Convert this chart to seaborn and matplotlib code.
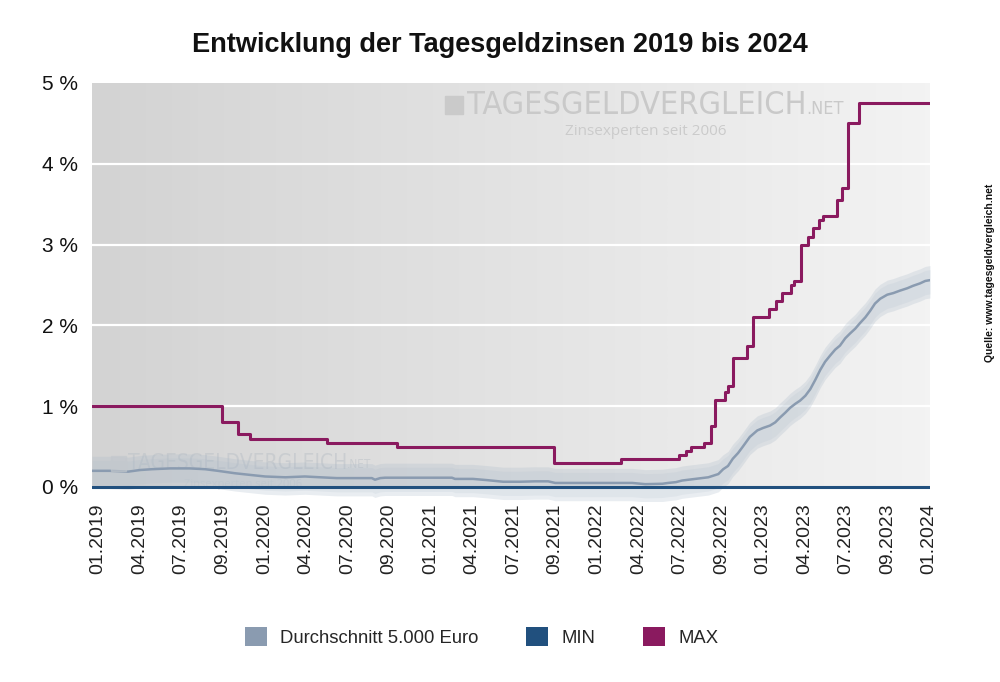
import numpy as np
import pandas as pd
import matplotlib
matplotlib.use("Agg")
import matplotlib.pyplot as plt
from matplotlib.colors import LinearSegmentedColormap
from matplotlib.patches import Patch, Rectangle
from matplotlib import font_manager as fm
import seaborn as sns

# ---------------- data ----------------
tick_labels = ["01.2019", "04.2019", "07.2019", "09.2019", "01.2020", "04.2020",
               "07.2020", "09.2020", "01.2021", "04.2021", "07.2021", "09.2021",
               "01.2022", "04.2022", "07.2022", "09.2022", "01.2023", "04.2023",
               "07.2023", "09.2023", "01.2024"]

# position along the (categorical) time axis, in units of tick index
max_t = [-0.145, 2.979, 3.358, 3.663, 5.506, 7.200, 10.980, 12.590, 13.980, 14.148,
         14.275, 14.590, 14.748, 14.843, 15.085, 15.159, 15.275, 15.612, 15.769,
         16.138, 16.306, 16.464, 16.675, 16.748, 16.906, 17.096, 17.212, 17.337,
         17.454, 17.791, 17.896, 18.054, 18.317, 20.02]
max_vals = [1.00, 0.80, 0.65, 0.60, 0.55, 0.50, 0.30, 0.35, 0.40, 0.45,
            0.50, 0.55, 0.75, 1.08, 1.18, 1.25, 1.60, 1.75, 2.10,
            2.20, 2.30, 2.40, 2.50, 2.55, 3.00, 3.10, 3.20, 3.30,
            3.35, 3.55, 3.70, 4.50, 4.75, 4.75]

avg_t = [-0.145, 0.284, 0.726, 1.011, 1.295, 1.737, 2.211, 2.579, 2.884, 3.295,
         3.653, 4.021, 4.506, 4.979, 5.348, 5.748, 6.590, 6.664, 6.790, 6.906,
         7.748, 8.516, 8.590, 9.022, 9.359, 9.748, 10.159, 10.516, 10.832, 11.001,
         12.085, 12.853, 13.169, 13.580, 13.717, 13.906, 14.054, 14.369, 14.685,
         14.927, 15.043, 15.159, 15.275, 15.401, 15.517, 15.685, 15.864, 16.001,
         16.169, 16.296, 16.412, 16.538, 16.654, 16.780, 16.896, 17.022, 17.138,
         17.264, 17.380, 17.496, 17.622, 17.738, 17.854, 17.980, 18.096, 18.222,
         18.338, 18.464, 18.580, 18.696, 18.822, 18.991, 19.138, 19.296, 19.475,
         19.612, 19.780, 19.906, 20.02]
avg_vals = [0.20, 0.20, 0.19, 0.21, 0.22, 0.23, 0.23, 0.22, 0.20, 0.17,
            0.15, 0.13, 0.12, 0.13, 0.12, 0.11, 0.11, 0.09, 0.11, 0.115,
            0.115, 0.115, 0.10, 0.10, 0.085, 0.065, 0.065, 0.07, 0.07, 0.05,
            0.05, 0.05, 0.035, 0.04, 0.05, 0.06, 0.08, 0.10, 0.12,
            0.16, 0.22, 0.26, 0.35, 0.42, 0.50, 0.62, 0.70, 0.73,
            0.76, 0.80, 0.86, 0.92, 0.98, 1.03, 1.07, 1.13, 1.21,
            1.33, 1.45, 1.55, 1.63, 1.70, 1.75, 1.84, 1.90, 1.96,
            2.03, 2.10, 2.18, 2.27, 2.33, 2.38, 2.40, 2.43, 2.46,
            2.49, 2.52, 2.55, 2.56]

min_t = [-0.145, 20.02]
min_vals = [0.0, 0.0]

y_ticks = [0, 1, 2, 3, 4, 5]
y_labels = ["0 %", "1 %", "2 %", "3 %", "4 %", "5 %"]
legend_labels = ["Durchschnitt 5.000 Euro", "MIN", "MAX"]

C_AVG = "#8a9bb0"
C_MIN = "#21507e"
C_MAX = "#8a1a5f"

# ---------------- style ----------------
sns.set_theme(style="white")
plt.rcParams["font.family"] = ["Liberation Sans", "DejaVu Sans"]

avail = {f.name for f in fm.fontManager.ttflist}
if "Liberation Sans Narrow" in avail:
    wm_font = dict(family="Liberation Sans Narrow")
else:
    wm_font = dict(family="DejaVu Sans", stretch="condensed")

fig = plt.figure(figsize=(10, 6.82), dpi=100)
ax = fig.add_axes([0.092, 0.2658, 0.838, 0.6125])

x0, x1 = -0.145, 20.02
ax.set_xlim(x0, x1)
ax.set_ylim(-0.17, 5.0)

# background gradient (only 0..5 %)
cmap = LinearSegmentedColormap.from_list("bg", ["#d3d3d3", "#e3e3e3", "#f3f3f3"])
grad = np.linspace(0, 1, 256).reshape(1, -1)
ax.imshow(grad, extent=[x0, x1, 0, 5], aspect="auto", cmap=cmap, zorder=0,
          interpolation="bicubic")
for yv in [1, 2, 3, 4]:
    ax.axhline(yv, color="white", lw=1.6, zorder=1)

# watermarks
wm1 = ax.text(0.447, 0.945, "TAGESGELDVERGLEICH", transform=ax.transAxes, fontsize=23.3,
              color="#c9c9c9", ha="left", va="center", zorder=1.5, **wm_font)
ax.annotate(".NET", xy=(1, 0.12), xycoords=wm1, fontsize=13, color="#c9c9c9",
            ha="left", va="bottom", zorder=1.5, **wm_font)
ax.text(0.564, 0.885, "Zinsexperten seit 2006", transform=ax.transAxes, fontsize=11,
        color="#cbcbcb", ha="left", va="center", zorder=1.5, family="Open Sans")
fig.patches.append(Rectangle((445 / 1000, 1 - 114 / 682), 18 / 1000, 18 / 682,
                             transform=fig.transFigure, color="#cacaca", zorder=1.5))

wm2 = ax.text(0.043, 0.09, "TAGESGELDVERGLEICH", transform=ax.transAxes, fontsize=15,
              color="#bcc2c8", alpha=0.55, ha="left", va="center", zorder=1.5, **wm_font)
ax.annotate(".NET", xy=(1, 0.12), xycoords=wm2, fontsize=8.5, color="#bcc2c8",
            alpha=0.55, ha="left", va="bottom", zorder=1.5, **wm_font)
ax.text(0.11, 0.04, "Zinsexperten seit 2006", transform=ax.transAxes, fontsize=8,
        color="#c6ccd2", alpha=0.55, ha="left", va="center", zorder=1.5, family="Open Sans")
fig.patches.append(Rectangle((111 / 1000, 1 - 471 / 682), 15 / 1000, 15 / 682,
                             transform=fig.transFigure, color="#c3c8cd", alpha=0.6, zorder=1.5))

# band around average
avg_arr = np.array(avg_vals)
ax.fill_between(avg_t, avg_arr - 0.22, avg_arr + 0.18, color="#a8b8c8",
                alpha=0.25, lw=0, zorder=2)
ax.fill_between(avg_t, avg_arr - 0.17, avg_arr + 0.13, color="#a8b8c8",
                alpha=0.15, lw=0, zorder=2)

df_avg = pd.DataFrame({"t": avg_t, "v": avg_vals})
df_min = pd.DataFrame({"t": min_t, "v": min_vals})
df_max = pd.DataFrame({"t": max_t, "v": max_vals})

sns.lineplot(data=df_avg, x="t", y="v", ax=ax, color=C_AVG, lw=1.8, zorder=3)
sns.lineplot(data=df_max, x="t", y="v", ax=ax, color=C_MAX, lw=2.2, zorder=4,
             drawstyle="steps-post")
sns.lineplot(data=df_min, x="t", y="v", ax=ax, color=C_MIN, lw=2.2, zorder=5)

ax.set_xlabel("")
ax.set_ylabel("")
ax.set_xticks(range(len(tick_labels)))
ax.set_xticklabels(tick_labels, rotation=90, fontsize=14, color="#222222")
ax.set_yticks(y_ticks)
ax.set_yticklabels(y_labels, fontsize=15, color="#111111")
ax.tick_params(axis="both", length=0)
ax.tick_params(axis="x", pad=2)
ax.tick_params(axis="y", pad=10)
for s in ax.spines.values():
    s.set_visible(False)
ax.set_facecolor("white")

fig.text(0.5, 1 - 45 / 682, "Entwicklung der Tagesgeldzinsen 2019 bis 2024",
         ha="center", va="center", fontsize=19.5, fontweight="bold", color="#111111")

fig.text(0.99, 1 - 273 / 682, "Quelle: www.tagesgeldvergleich.net", rotation=90,
         ha="center", va="center", fontsize=7.5, fontweight="bold", color="#111111")

handles = [Patch(facecolor=C_AVG, edgecolor="none"),
           Patch(facecolor=C_MIN, edgecolor="none"),
           Patch(facecolor=C_MAX, edgecolor="none")]
fig.legend(handles, legend_labels, loc="center", bbox_to_anchor=(0.4815, 1 - 637 / 682),
           ncol=3, frameon=False, fontsize=13.3, handlelength=1.2, handleheight=1.2,
           handletextpad=0.7, columnspacing=2.6)

fig.savefig("out.png", dpi=100)
